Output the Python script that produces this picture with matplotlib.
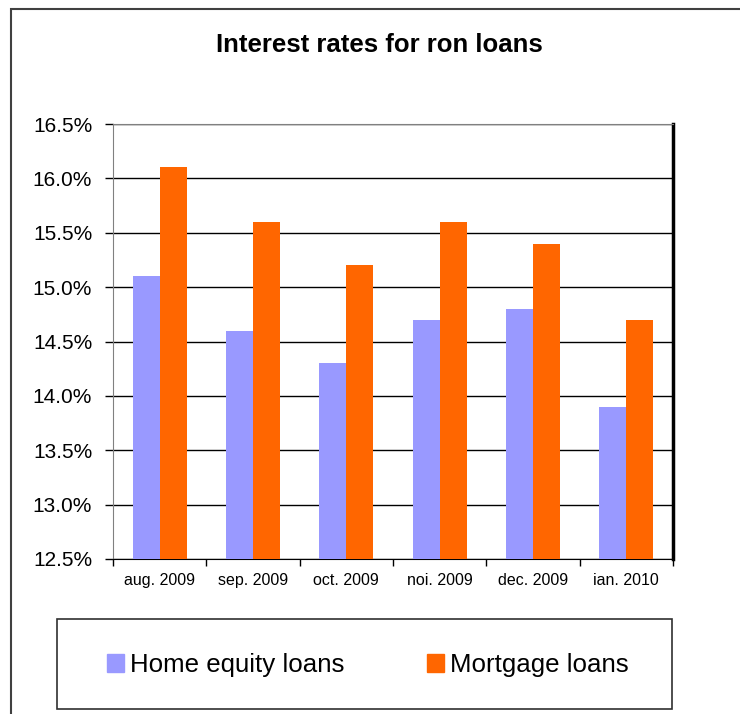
import matplotlib
matplotlib.use("Agg")
import matplotlib.pyplot as plt
from matplotlib.patches import Rectangle, Patch
import numpy as np

plt.rcParams['font.family'] = ['Liberation Sans', 'DejaVu Sans']

months = ["aug. 2009", "sep. 2009", "oct. 2009", "noi. 2009", "dec. 2009", "ian. 2010"]
home_equity = [15.1, 14.6, 14.3, 14.7, 14.8, 13.9]
mortgage = [16.1, 15.6, 15.2, 15.6, 15.4, 14.7]
series_names = ["Home equity loans", "Mortgage loans"]
colors = ["#9999FF", "#FF6600"]
y_ticks = [12.5, 13.0, 13.5, 14.0, 14.5, 15.0, 15.5, 16.0, 16.5]

W, H = 740, 714
fig = plt.figure(figsize=(W / 100, H / 100), dpi=100)
ax = fig.add_axes([113 / W, 1 - 559 / H, 560 / W, 435 / H])

x = np.arange(len(months))
bw = 0.29
ax.bar(x - bw / 2, [v - 12.5 for v in home_equity], bw, bottom=12.5,
       color=colors[0], zorder=3)
ax.bar(x + bw / 2, [v - 12.5 for v in mortgage], bw, bottom=12.5,
       color=colors[1], zorder=3)

ax.set_xlim(-0.5, len(months) - 0.5)
ax.set_ylim(12.5, 16.5)
ax.set_yticks(y_ticks)
ax.set_yticklabels([f"{v:.1f}%" for v in y_ticks], fontsize=15)
ax.yaxis.grid(True, color="black", linewidth=1, zorder=0)
ax.tick_params(axis="y", length=6, width=1, pad=9, color="black")

# category labels centered, ticks at the boundaries
ax.set_xticks(x)
ax.set_xticklabels(months, fontsize=11.5)
ax.set_xticks(np.arange(len(months) + 1) - 0.5, minor=True)
ax.tick_params(axis="x", which="major", length=0, pad=10)
ax.tick_params(axis="x", which="minor", length=5, width=1, color="black")

ax.spines["left"].set_color("#808080")
ax.spines["top"].set_color("#808080")
ax.spines["bottom"].set_color("black")
ax.spines["right"].set_color("black")
ax.spines["right"].set_linewidth(2.5)

fig.text(379 / W, 1 - 45 / H, "Interest rates for ron loans", ha="center",
         va="center", fontsize=18.5, fontweight="bold")

# outer frame
fig.patches.append(Rectangle((11 / W, -0.1), 1.2, 1 - 9 / H + 0.1,
                             transform=fig.transFigure, fill=False,
                             edgecolor="#404040", linewidth=1.5))

# legend box
fig.patches.append(Rectangle((57 / W, 1 - 709 / H), 615 / W, 90 / H,
                             transform=fig.transFigure, fill=False,
                             edgecolor="#303030", linewidth=1.2))
handles = [Patch(color=c) for c in colors]
fig.legend(handles, series_names, loc="center", bbox_to_anchor=(368 / W, 1 - 665 / H),
           ncol=2, frameon=False, fontsize=18.6, handlelength=0.65, handleheight=0.65,
           handletextpad=0.25, columnspacing=3.2)

fig.savefig("out.png", dpi=100)
